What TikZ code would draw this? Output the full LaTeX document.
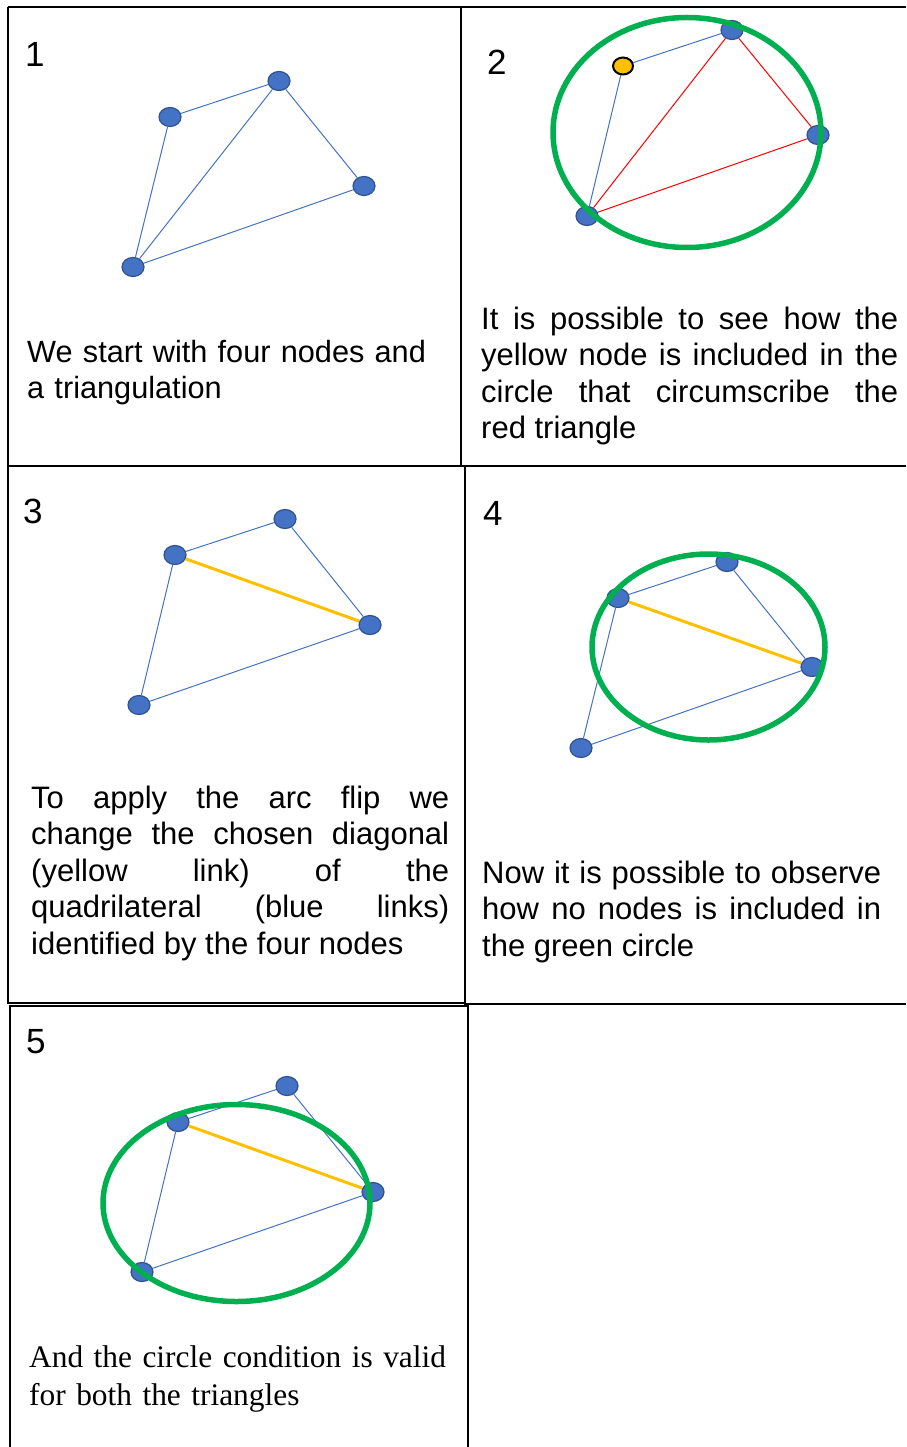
\documentclass[tikz,border=0pt]{standalone}
\usepackage{fontspec}
\setmainfont{Liberation Sans}
\newfontfamily\seriftext{Liberation Serif}
\usetikzlibrary{shapes.geometric}
\definecolor{nodeblue}{HTML}{4472C4}
\definecolor{nodeedge}{HTML}{2F528F}
\definecolor{diagyellow}{HTML}{FFC000}
\definecolor{ringgreen}{HTML}{00B050}

\begin{document}
\begin{tikzpicture}[x=1pt,y=-1pt,
  dot/.style={ellipse,draw=nodeedge,fill=nodeblue,line width=1.2pt,minimum width=22pt,minimum height=19pt,inner sep=0pt},
  ydot/.style={dot,draw=black,fill=diagyellow,line width=2pt,minimum width=20pt,minimum height=17pt},
  link/.style={draw=nodeblue,line width=1pt},
  redlink/.style={draw=red,line width=1pt},
  diag/.style={draw=diagyellow,line width=3pt},
  ring/.style={draw=ringgreen,line width=5.5pt},
  frame/.style={draw=black,line width=2pt},
  num/.style={anchor=base west,inner sep=0pt,font=\fontsize{35}{40}\selectfont},
  txt/.style={anchor=base west,inner sep=0pt,font=\fontsize{31}{36.5}\selectfont}]
\useasboundingbox (0,0) rectangle (906,1447);

% panel frames
\draw[frame] (8,7) -- (906,7);
\draw[frame] (8,7) -- (8,1003) -- (464,1003);
\draw[frame] (461,7) -- (461,465.5);
\draw[frame] (8,465.5) -- (906,465.5);
\draw[frame] (464.5,465.5) -- (464.5,1004) -- (906,1004);
\draw[frame] (468,1447) -- (468,1006) -- (10,1006) -- (10,1447);

% 1
\node[num] (n1) at (25,67) {1};
\node[dot] (a1) at (170,117) {};
\node[dot] (b1) at (279,81) {};
\node[dot] (c1) at (364,186) {};
\node[dot] (d1) at (133,267) {};
\draw[link] (d1) -- (a1);
\draw[link] (a1) -- (b1);
\draw[link] (b1) -- (d1);
\draw[link] (b1) -- (c1);
\draw[link] (c1) -- (d1);
\node[txt,text width=420pt,align=left,font=\fontsize{30.7}{36.5}\selectfont] (t1) at (27,362) {We start with four nodes and\\a triangulation};

% 2
\node[num] (n2) at (487,75) {2};
\node[ydot] (a2) at (623,66) {};
\node[dot] (b2) at (732,30) {};
\node[dot] (c2) at (818,135) {};
\node[dot] (d2) at (587,216) {};
\draw[link] (d2) -- (a2);
\draw[link] (a2) -- (b2);
\draw[redlink] (b2) -- (d2);
\draw[redlink] (b2) -- (c2);
\draw[redlink] (c2) -- (d2);
\draw[ring] (687,132.5) ellipse [x radius=134pt,y radius=115pt];
\node[txt,text width=417pt,align=justify] (t2) at (481,329) {It is possible to see how the\linebreak yellow node is included in the\linebreak circle that circumscribe the\linebreak red triangle};

% 3
\node[num] (n3) at (23,523) {3};
\node[dot] (a3) at (175,555) {};
\node[dot] (b3) at (285,519) {};
\node[dot] (c3) at (370,625) {};
\node[dot] (d3) at (139,705) {};
\draw[link] (d3) -- (a3);
\draw[link] (a3) -- (b3);
\draw[link] (b3) -- (c3);
\draw[link] (c3) -- (d3);
\draw[diag] (a3) -- (c3);
\node[txt,text width=418pt,align=justify] (t3) at (31,808) {To apply the arc flip we\linebreak change the chosen diagonal\linebreak (yellow link) of the\linebreak quadrilateral (blue links)\linebreak identified by the four nodes};

% 4
\node[num] (n4) at (483,525) {4};
\node[dot] (a4) at (618,598) {};
\node[dot] (b4) at (727,562) {};
\node[dot] (c4) at (812,667) {};
\node[dot] (d4) at (581,748) {};
\draw[link] (d4) -- (a4);
\draw[link] (a4) -- (b4);
\draw[link] (b4) -- (c4);
\draw[link] (c4) -- (d4);
\draw[diag] (a4) -- (c4);
\draw[ring] (708.5,647) ellipse [x radius=116.5pt,y radius=93pt];
\node[txt,text width=399pt,align=justify] (t4) at (482,883) {Now it is possible to observe\linebreak how no nodes is included in\linebreak the green circle};

% 5
\node[num] (n5) at (26,1053) {5};
\node[dot] (a5) at (178,1122) {};
\node[dot] (b5) at (287,1086) {};
\node[dot] (c5) at (373,1192) {};
\node[dot] (d5) at (142,1272) {};
\draw[link] (d5) -- (a5);
\draw[link] (a5) -- (b5);
\draw[link] (b5) -- (c5);
\draw[link] (c5) -- (d5);
\draw[diag] (a5) -- (c5);
\draw[ring] (236.5,1203) ellipse [x radius=133.5pt,y radius=98.5pt];
\node[txt,text width=436pt,align=left,font=\seriftext\fontsize{31.4}{38}\selectfont] (t5) at (29,1367) {And the circle condition is valid\\for both the triangles};
\end{tikzpicture}
\end{document}
